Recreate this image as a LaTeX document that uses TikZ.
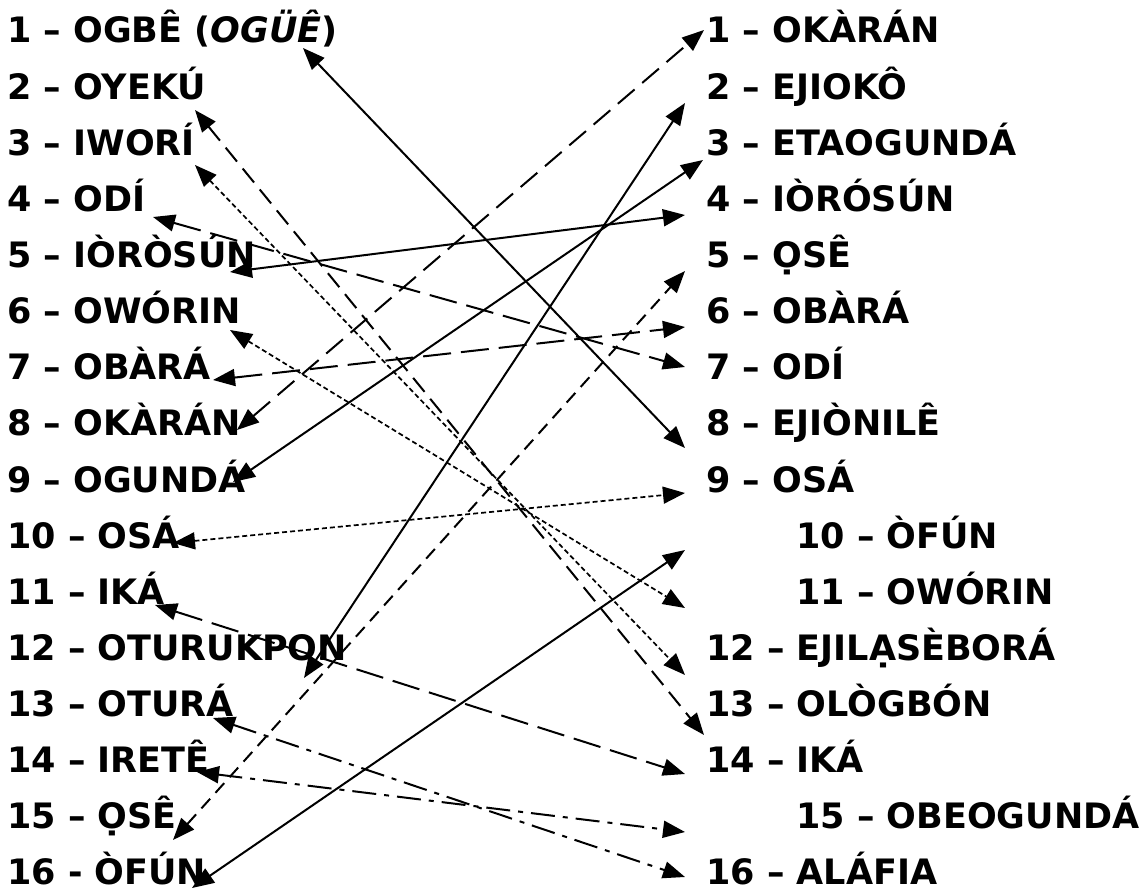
\documentclass[tikz,border=0pt]{standalone}
\usepackage{fontspec}
\setmainfont{DejaVu Sans}
\usetikzlibrary{arrows.meta}

\tikzset{
    lbl/.style={anchor=base west, inner sep=0pt,
        font=\fontsize{35}{40}\selectfont\bfseries},
    link/.style={<->, >={Triangle[length=22pt, width=17pt]},
        line width=2pt},
    lnsolid/.style={link},
    lnshort/.style={link, dash pattern=on 13pt off 8pt},
    lnmed/.style={link, dash pattern=on 18pt off 9pt},
    lndash/.style={link, dash pattern=on 22pt off 10pt},
    lnlong/.style={link, dash pattern=on 28pt off 10pt},
    lndot/.style={link, line width=1.7pt, dash pattern=on 5pt off 3pt},
    lndashdot/.style={link, dash pattern=on 24pt off 8pt on 5pt off 8pt},
}

\begin{document}
\begin{tikzpicture}[x=1pt, y=-1pt]
    \useasboundingbox (0, 0) rectangle (1148, 893);
    % left column
    \foreach \i/\txt in {1/{1 – OGBÊ (\textit{OGÜÊ})}, 2/{2 – OYEKÚ},
        3/{3 – IWORÍ}, 4/{4 – ODÍ}, 5/{5 – IÒRÒSÚN}, 6/{6 – OWÓRIN},
        7/{7 – OBÀRÁ}, 8/{8 – OKÀRÁN}, 9/{9 – OGUNDÁ}, 10/{10 – OSÁ},
        11/{11 – IKÁ}, 12/{12 – OTURUKPON}, 13/{13 – OTURÁ},
        14/{14 – IRETÊ}, 15/{15 – ỌSÊ}, 16/{16 - ÒFÚN}}{
        \node[lbl] (l\i) at (7, {43 + 56.13 * (\i - 1)}) {\txt};
    }
    % right column
    \foreach \i/\x/\txt in {1/706/{1 – OKÀRÁN}, 2/706/{2 – EJIOKÔ},
        3/706/{3 – ETAOGUNDÁ}, 4/706/{4 – IÒRÓSÚN}, 5/706/{5 – ỌSÊ},
        6/706/{6 – OBÀRÁ}, 7/706/{7 – ODÍ}, 8/706/{8 – EJIÒNILÊ},
        9/706/{9 – OSÁ}, 10/796/{10 – ÒFÚN}, 11/796/{11 – OWÓRIN},
        12/706/{12 – EJILẠSÈBORÁ}, 13/706/{13 – OLÒGBÓN},
        14/706/{14 – IKÁ}, 15/796/{15 – OBEOGUNDÁ}, 16/706/{16 – ALÁFIA}}{
        \node[lbl] (r\i) at (\x, {43 + 56.13 * (\i - 1)}) {\txt};
    }
    % arrow ends
    \foreach \i/\x/\y in {1/303/48, 2/195/110, 3/195/165, 4/153/217,
        5/230/272, 6/230/330, 7/213/380, 8/237/430, 9/233/482, 10/173/543,
        11/155/605, 12/304/678, 13/213/718, 14/197/772, 15/173/840,
        16/192/888}{
        \coordinate (p\i) at (\x, \y);
    }
    \foreach \i/\x/\y in {1/704/30, 2/685/103, 3/703/160, 4/685/215,
        5/685/271, 6/685/327, 7/685/367, 8/685/448, 9/685/493, 10/685/550,
        11/685/608, 12/685/675, 13/704/735, 14/685/774, 15/685/832,
        16/685/877}{
        \coordinate (q\i) at (\x, \y);
    }
    % links
    \foreach \a/\b/\s in {1/8/lnsolid, 8/1/lndash, 12/2/lnsolid,
        9/3/lnsolid, 5/4/lnsolid, 15/5/lnshort, 7/6/lnlong, 4/7/lnlong,
        10/9/lndot, 16/10/lnsolid, 6/11/lndot, 3/12/lndot, 2/13/lnmed,
        11/14/lnlong, 14/15/lndashdot, 13/16/lndashdot}{
        \draw[\s] (p\a) -- (q\b);
    }
\end{tikzpicture}
\end{document}
